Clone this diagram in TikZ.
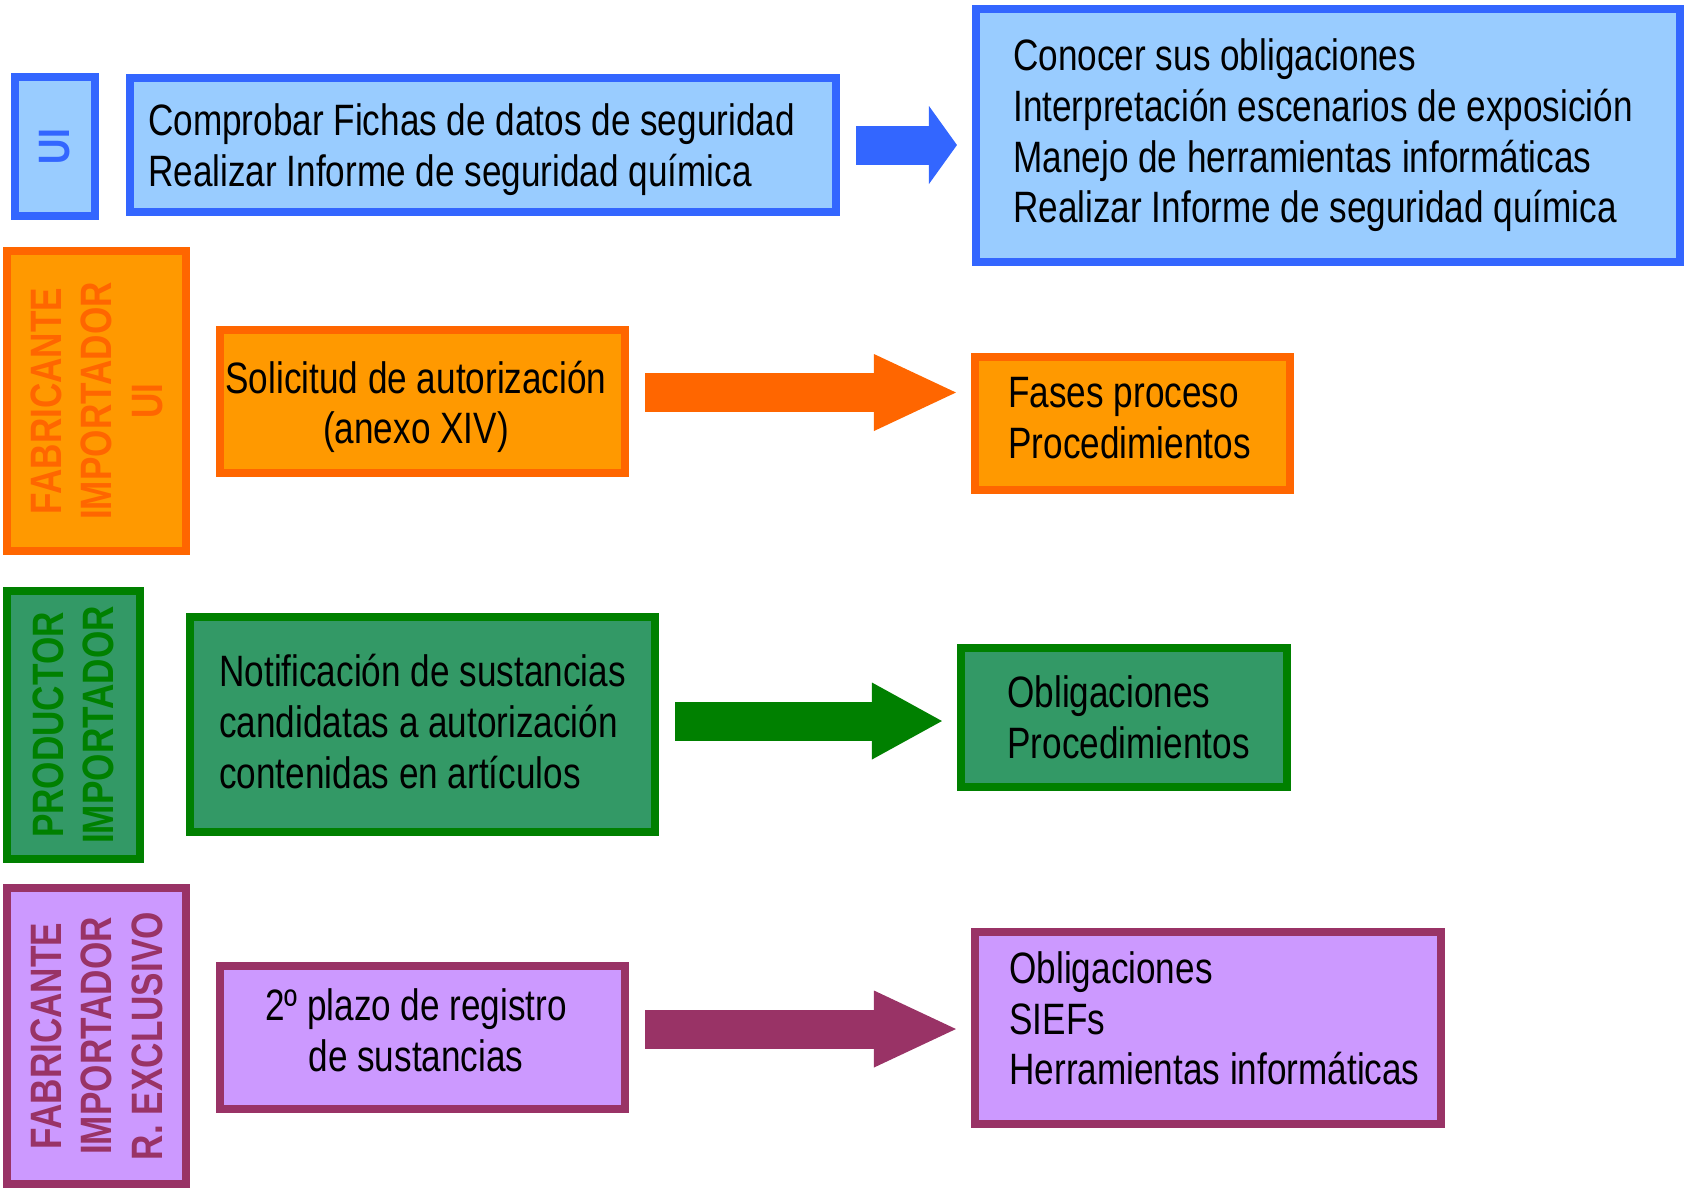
\documentclass[tikz,border=0pt]{standalone}
\usepackage{fontspec}
\setmainfont{Liberation Sans}[FakeStretch=0.8]
\usepackage{tikz}
\usetikzlibrary{arrows.meta,positioning}
\definecolor{uifill}{HTML}{99CCFF}
\definecolor{uiline}{HTML}{3366FF}
\definecolor{fabfill}{HTML}{FF9900}
\definecolor{fabline}{HTML}{FF6600}
\definecolor{prodfill}{HTML}{339966}
\definecolor{prodline}{HTML}{008000}
\definecolor{exclfill}{HTML}{CC99FF}
\definecolor{exclline}{HTML}{993366}
\begin{document}
\begin{tikzpicture}[
    every node/.style={font=\fontsize{12.5}{14.4}\selectfont},
    box/.style={draw, rectangle, line width=2.3pt, inner sep=0pt},
    tag/.style={box, rotate=90, align=center, font=\bfseries\fontsize{12.5}{14.4}\selectfont},
    uitag/.style={tag, fill=uifill, draw=uiline, text=uiline},
    uibox/.style={box, fill=uifill, draw=uiline},
    fabtag/.style={tag, fill=fabfill, draw=fabline, text=fabline},
    fabbox/.style={box, fill=fabfill, draw=fabline},
    prodtag/.style={tag, fill=prodfill, draw=prodline, text=prodline},
    prodbox/.style={box, fill=prodfill, draw=prodline},
    excltag/.style={tag, fill=exclfill, draw=exclline, text=exclline},
    exclbox/.style={box, fill=exclfill, draw=exclline},
    flow/.style={line width=0.39cm, shorten <=0.16cm, shorten >=0.15cm},
    fat/.style={-{Triangle[length=0.82cm, width=0.77cm, line width=0pt]}},
]
    \useasboundingbox (0,0) rectangle (16.86,-11.91);

    % Row 1: UI
    \node[uitag, minimum width=1.39cm, minimum height=0.80cm] (ui) at (0.55,-1.465) {UI};
    \node[uibox, align=left, minimum width=7.06cm, minimum height=1.34cm] (comp) at (4.83,-1.45) {\rule{0pt}{11.6pt}Comprobar Fichas de datos de seguridad\\Realizar Informe de seguridad química\rule{0.66cm}{0pt}};
    \node[uibox, align=left, minimum width=7.04cm, minimum height=2.53cm] (conocer) at (13.28,-1.355) {Conocer sus obligaciones\\Interpretación escenarios de exposición\rule{0.1cm}{0pt}\\Manejo de herramientas informáticas\\Realizar Informe de seguridad química};

    % Row 2: fabricante / importador / UI
    \node[fabtag, minimum width=3.00cm, minimum height=1.79cm] (fab) at (0.965,-4.01) {FABRICANTE\\IMPORTADOR\\UI};
    \node[fabbox, align=center, minimum width=4.05cm, minimum height=1.43cm] (sol) at (4.225,-4.015) {\rule{0pt}{12.3pt}Solicitud de autorización\rule{0.13cm}{0pt}\\(anexo XIV)\rule{0.13cm}{0pt}};
    \node[fabbox, align=left, minimum width=3.15cm, minimum height=1.33cm] (fases) at (11.325,-4.235) {Fases proceso\\Procedimientos\rule{0.06cm}{0pt}\rule[-3.05pt]{0pt}{0pt}};

    % Row 3: productor / importador
    \node[prodtag, minimum width=2.68cm, minimum height=1.33cm] (prod) at (0.735,-7.25) {PRODUCTOR\\IMPORTADOR};
    \node[prodbox, align=left, minimum width=4.65cm, minimum height=2.15cm] (notif) at (4.225,-7.245) {Notificación de sustancias\\candidatas a autorización\\contenidas en artículos\rule[-1.8pt]{0pt}{0pt}};
    \node[prodbox, align=left, minimum width=3.26cm, minimum height=1.39cm] (oblig) at (11.24,-7.175) {\rule{0.09cm}{0pt}Obligaciones\\\rule{0.09cm}{0pt}Procedimientos};

    % Row 4: fabricante / importador / representante exclusivo
    \node[excltag, minimum width=2.96cm, minimum height=1.79cm] (excl) at (0.965,-10.36) {FABRICANTE\\IMPORTADOR\\R. EXCLUSIVO};
    \node[exclbox, align=center, minimum width=4.05cm, minimum height=1.43cm] (plazo) at (4.225,-10.375) {2º plazo de registro\rule{0.13cm}{0pt}\\de sustancias\rule{0.13cm}{0pt}\rule[-4.3pt]{0pt}{0pt}};
    \node[exclbox, align=left, minimum width=4.66cm, minimum height=1.92cm] (sief) at (12.08,-10.28) {\rule{0.13cm}{0pt}Obligaciones\\\rule{0.13cm}{0pt}SIEFs\\\rule{0.13cm}{0pt}Herramientas informáticas\rule[-5.5pt]{0pt}{0pt}};

    % Block arrows
    \draw[flow, uiline, -{Triangle[length=0.28cm, width=0.78cm, line width=0pt]}] (comp.east) -- (comp.east -| conocer.west);
    \draw[flow, fat, fabline] ([yshift=0.09cm]sol.east) -- ([yshift=0.09cm]sol.east -| fases.west);
    \draw[flow, prodline, -{Triangle[length=0.70cm, width=0.77cm, line width=0pt]}] ([yshift=0.035cm]notif.east) -- ([yshift=0.035cm]notif.east -| oblig.west);
    \draw[flow, fat, exclline] ([yshift=0.085cm]plazo.east) -- ([yshift=0.085cm]plazo.east -| sief.west);
\end{tikzpicture}
\end{document}
